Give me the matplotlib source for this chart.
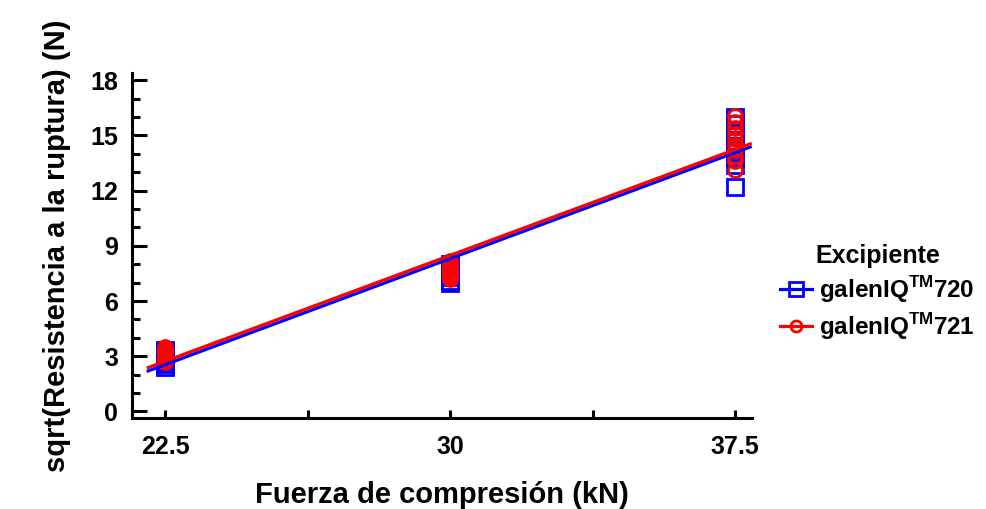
import numpy as np
import matplotlib.pyplot as plt
from matplotlib.ticker import MultipleLocator

plt.rcParams['font.family'] = ['Liberation Sans', 'DejaVu Sans']
plt.rcParams['font.weight'] = 'bold'
plt.rcParams['mathtext.default'] = 'bf'

# datos
fuerza = [22.5, 30, 37.5]
g720 = {
    22.5: [2.4, 2.6, 2.7, 2.8, 2.9, 3.0, 3.1, 3.2, 3.3, 3.35],
    30: [7.0, 7.1, 7.3, 7.4, 7.5, 7.6, 7.7, 7.8, 7.9, 8.0],
    37.5: [12.2, 13.4, 13.8, 14.1, 14.4, 14.7, 15.0, 15.3, 15.6, 16.0],
}
g721 = {
    22.5: [2.7, 2.8, 2.9, 3.0, 3.1, 3.2, 3.3, 3.4, 3.5, 3.45],
    30: [7.2, 7.3, 7.4, 7.5, 7.6, 7.7, 7.8, 7.9, 8.1, 8.2],
    37.5: [13.1, 13.6, 13.9, 14.2, 14.5, 14.8, 15.1, 15.4, 15.7, 16.05],
}
rango_ajuste = [22.05, 37.9]
x_ticks = [22.5, 26.25, 30, 33.75, 37.5]
x_labels = ['22.5', '', '30', '', '37.5']
y_ticks = [0, 3, 6, 9, 12, 15, 18]

fig = plt.figure(figsize=(9.87, 5.09), dpi=100)
ax = fig.add_axes([0.134, 0.179, 0.628, 0.678])

series = [
    (g720, 'blue', 's', 12, r'galenIQ$^{\mathregular{TM}}$720'),
    (g721, 'red', 'o', 10, r'galenIQ$^{\mathregular{TM}}$721'),
]
handles = []
for datos, color, marca, ms, etiqueta in series:
    xs = np.concatenate([[f] * len(datos[f]) for f in fuerza])
    ys = np.concatenate([datos[f] for f in fuerza])
    ax.plot(xs, ys, linestyle='none', marker=marca, ms=ms, mfc='none',
            mec=color, mew=2, zorder=3)
    b, a = np.polyfit(xs, ys, 1)
    xl = np.array(rango_ajuste)
    ax.plot(xl, a + b * xl, color=color, lw=2.3, zorder=4)
    h, = ax.plot([], [], color=color, lw=2.3, marker=marca, ms=ms * 0.8,
                 mfc='none', mec=color, mew=2)
    handles.append((h, etiqueta))

ax.set_xlim(21.63, 37.95)
ax.set_ylim(-0.35, 18.4)
ax.set_xticks(x_ticks)
ax.set_xticklabels(x_labels)
ax.set_yticks(y_ticks)
ax.yaxis.set_minor_locator(MultipleLocator(1))

for s in ['top', 'right']:
    ax.spines[s].set_visible(False)
for s in ['left', 'bottom']:
    ax.spines[s].set_linewidth(2.2)

ax.tick_params(axis='y', which='major', direction='in', length=11, width=2.2,
               labelsize=18, pad=10)
ax.tick_params(axis='y', which='minor', direction='in', length=6, width=2.2)
ax.tick_params(axis='x', which='major', direction='in', length=6, width=2.2,
               labelsize=18, pad=12)

ax.set_xlabel('Fuerza de compresión (kN)', fontsize=21, fontweight='bold',
              labelpad=16)
ax.set_ylabel('sqrt(Resistencia a la ruptura) (N)', fontsize=21,
              fontweight='bold', labelpad=14)

leg = fig.legend([h for h, _ in handles], [e for _, e in handles],
                 title='Excipiente', loc='center left',
                 bbox_to_anchor=(0.776, 0.425), frameon=False, fontsize=17.5,
                 title_fontproperties={'size': 18, 'weight': 'bold'},
                 handlelength=1.3, handletextpad=0.3, labelspacing=0.25,
                 borderpad=0.1)

fig.savefig('out.png', dpi=100)
